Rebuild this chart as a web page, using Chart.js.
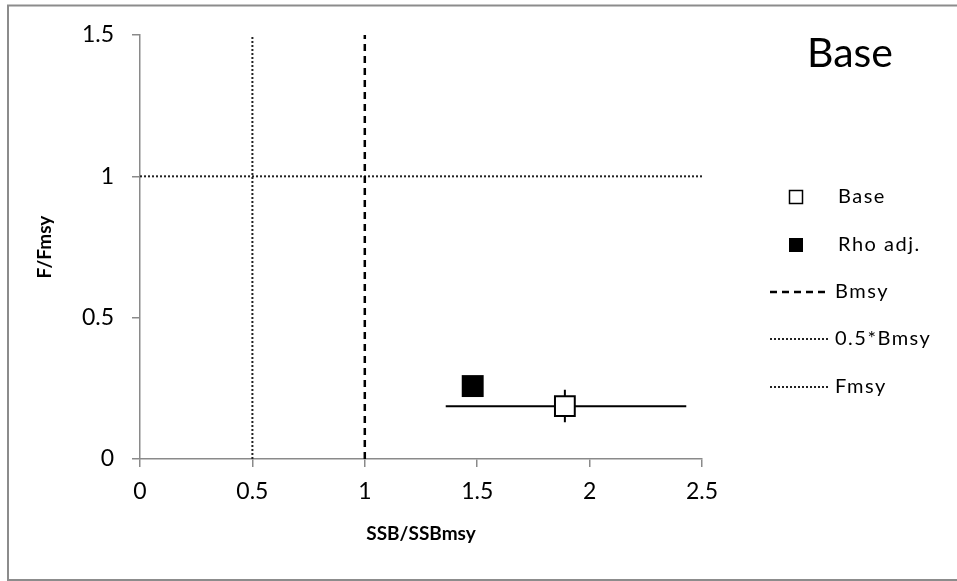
<!DOCTYPE html>
<html>
<head>
<meta charset="utf-8">
<script src="https://cdn.jsdelivr.net/npm/chart.js@4/dist/chart.umd.min.js"></script>
<style>
  html, body { margin: 0; padding: 0; background: #fff; }
  #wrap { width: 957px; height: 581px; }
</style>
</head>
<body>
<div id="wrap"><canvas id="kobe"></canvas></div>
<script>
// values
const baseName = "Base";
const basePoint = [1.89, 0.187];
const baseErrX = [1.36, 2.43];
const baseErrY = [0.13, 0.245];
const rhoName = "Rho adj.";
const rhoPoint = [1.48, 0.258];
const refNames = ["Bmsy", "0.5*Bmsy", "Fmsy"];
const bmsyLine = [[1, 0], [1, 1.5]];
const halfBmsyLine = [[0.5, 0], [0.5, 1.5]];
const fmsyLine = [[0, 1], [2.5, 1]];
const xTicks = [0, 0.5, 1, 1.5, 2, 2.5];
const yTicks = [0, 0.5, 1, 1.5];

const font = "Lato, 'Open Sans', sans-serif";
const toPts = (arr) => arr.map(p => ({ x: p[0], y: p[1] }));
const dotted = [2, 2];
const dashed = [7, 5];
const dotColor = '#222';

// frame, title and legend drawn on the canvas
const decor = {
  id: 'decor',
  afterDraw(chart) {
    const ctx = chart.ctx;
    ctx.save();
    ctx.strokeStyle = '#8c8c8c';
    ctx.lineWidth = 2;
    ctx.strokeRect(8, 5.5, 960, 574.5);

    ctx.fillStyle = '#000';
    ctx.font = "41px " + font;
    ctx.textAlign = 'right';
    ctx.textBaseline = 'alphabetic';
    ctx.fillText(baseName, 893, 67);

    ctx.font = "20px " + font;
    ctx.letterSpacing = '1.5px';
    ctx.textAlign = 'left';
    ctx.textBaseline = 'middle';
    const items = [
      { label: baseName, kind: 'open', y: 197 },
      { label: rhoName, kind: 'filled', y: 245 },
      { label: refNames[0], kind: 'line', dash: dashed, w: 2.5, color: '#000', y: 292 },
      { label: refNames[1], kind: 'line', dash: dotted, w: 2, color: dotColor, y: 339 },
      { label: refNames[2], kind: 'line', dash: dotted, w: 2, color: dotColor, y: 387 }
    ];
    items.forEach(it => {
      if (it.kind === 'line') {
        ctx.beginPath();
        ctx.setLineDash(it.dash);
        ctx.strokeStyle = it.color;
        ctx.lineWidth = it.w;
        ctx.moveTo(770, it.y);
        ctx.lineTo(828, it.y);
        ctx.stroke();
        ctx.setLineDash([]);
        ctx.fillText(it.label, 835, it.y);
      } else {
        if (it.kind === 'filled') {
          ctx.fillRect(789, it.y - 7, 14, 14);
        } else {
          ctx.strokeStyle = '#000';
          ctx.lineWidth = 1.5;
          ctx.strokeRect(789.5, it.y - 6.5, 13, 13);
        }
        ctx.fillText(it.label, 838, it.y);
      }
    });
    ctx.restore();
  }
};

const axisColor = '#8a8a8a';
const tickFont = { family: font, size: 23 };
const titleFont = { family: font, size: 19, weight: 'bold' };
const fmt = (v) => String(v);

new Chart(document.getElementById('kobe'), {
  type: 'scatter',
  data: {
    datasets: [
      {
        label: baseName,
        data: toPts([basePoint]),
        pointStyle: 'rect',
        pointRadius: 14,
        backgroundColor: '#fff',
        borderColor: '#000',
        borderWidth: 2
      },
      {
        label: rhoName,
        data: toPts([rhoPoint]),
        pointStyle: 'rect',
        pointRadius: 15.5,
        backgroundColor: '#000',
        borderColor: '#000',
        borderWidth: 0
      },
      {
        label: 'errX',
        type: 'line',
        data: toPts([[baseErrX[0], basePoint[1]], [baseErrX[1], basePoint[1]]]),
        borderColor: '#000',
        borderWidth: 2,
        pointRadius: 0
      },
      {
        label: 'errY',
        type: 'line',
        data: toPts([[basePoint[0], baseErrY[0]], [basePoint[0], baseErrY[1]]]),
        borderColor: '#000',
        borderWidth: 2,
        pointRadius: 0
      },
      {
        label: refNames[0],
        type: 'line',
        data: toPts(bmsyLine),
        borderColor: '#000',
        borderWidth: 2.5,
        borderDash: dashed,
        pointRadius: 0
      },
      {
        label: refNames[1],
        type: 'line',
        data: toPts(halfBmsyLine),
        borderColor: dotColor,
        borderWidth: 2,
        borderDash: dotted,
        pointRadius: 0
      },
      {
        label: refNames[2],
        type: 'line',
        data: toPts(fmsyLine),
        borderColor: dotColor,
        borderWidth: 2,
        borderDash: dotted,
        pointRadius: 0
      }
    ]
  },
  options: {
    responsive: true,
    maintainAspectRatio: false,
    animation: false,
    layout: { padding: { left: 33, right: 255, top: 35, bottom: 36 } },
    plugins: {
      legend: { display: false },
      tooltip: { enabled: false }
    },
    scales: {
      x: {
        type: 'linear',
        min: 0,
        max: 2.5,
        afterBuildTicks: (s) => { s.ticks = xTicks.map(v => ({ value: v })); },
        afterFit: (s) => { s.height = 86; },
        border: { color: axisColor, width: 1.5 },
        grid: { drawOnChartArea: false, drawTicks: true, tickLength: 8, color: axisColor, lineWidth: 1.5 },
        ticks: { font: tickFont, color: '#000', padding: 11, maxRotation: 0, callback: fmt },
        title: { display: true, text: 'SSB/SSBmsy', font: titleFont, color: '#000', padding: { top: 0, bottom: 0 } }
      },
      y: {
        type: 'linear',
        min: 0,
        max: 1.5,
        afterBuildTicks: (s) => { s.ticks = yTicks.map(v => ({ value: v })); },
        afterFit: (s) => { s.width = 107; },
        border: { color: axisColor, width: 1.5 },
        grid: { drawOnChartArea: false, drawTicks: true, tickLength: 8, color: axisColor, lineWidth: 1.5 },
        ticks: { font: tickFont, color: '#000', padding: 18, callback: fmt },
        title: { display: true, text: 'F/Fmsy', font: titleFont, color: '#000', padding: { top: 0, bottom: 0 } }
      }
    }
  },
  plugins: [decor]
});
</script>
</body>
</html>
